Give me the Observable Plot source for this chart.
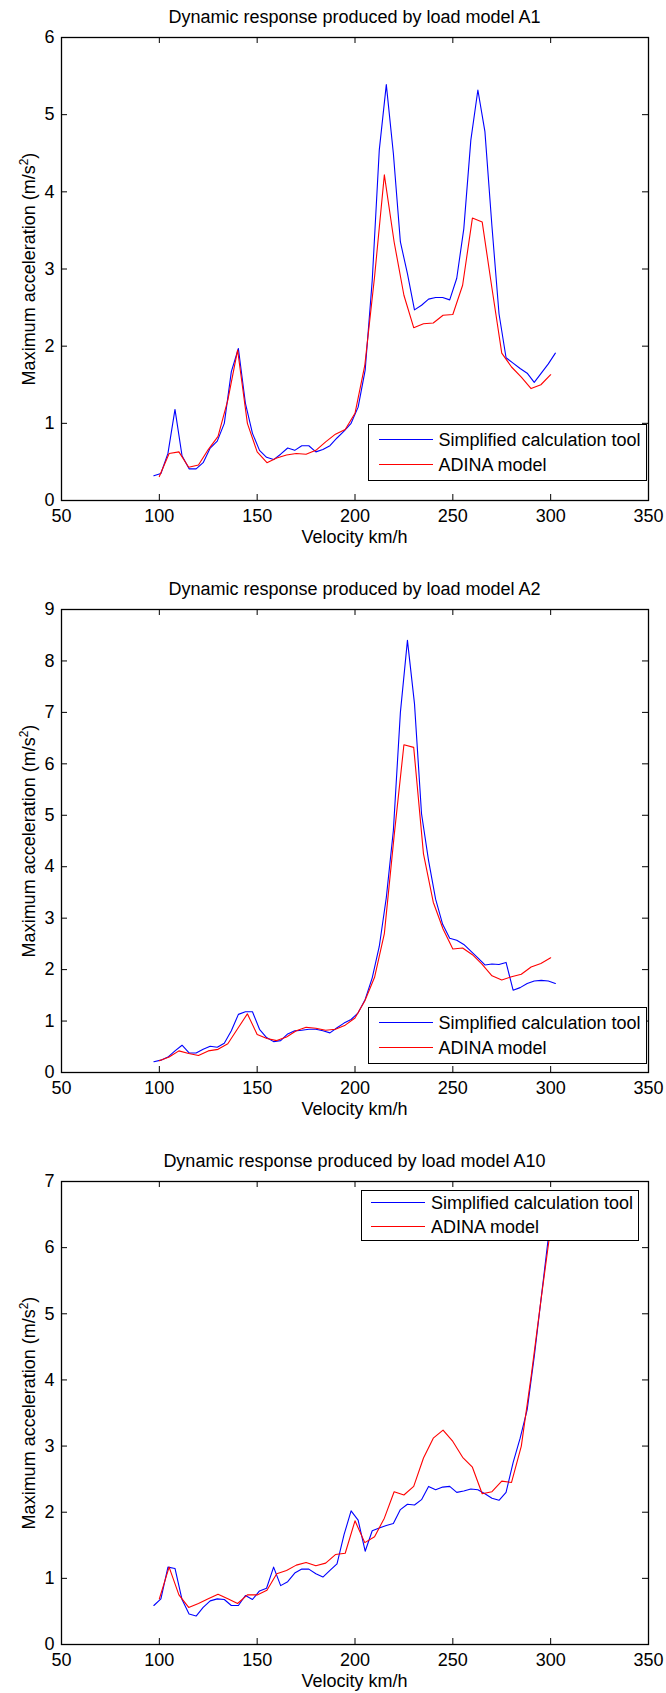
<!DOCTYPE html>
<html>
<head>
<meta charset="utf-8">
<script src="https://cdn.jsdelivr.net/npm/d3@7"></script>
<script src="https://cdn.jsdelivr.net/npm/@observablehq/plot@0.6"></script>
<style>
  html, body { margin: 0; padding: 0; background: #fff; }
  body { width: 666px; height: 1693px; position: relative; overflow: hidden;
         font-family: "Liberation Sans", Arial, Helvetica, sans-serif; color: #000; }
  .panel { position: absolute; left: 0; width: 666px; height: 572px; }
  .panel svg { position: absolute; left: 0; top: 0; }
  .title { position: absolute; left: 61px; width: 587px; text-align: center; font-size: 18px; line-height: 22px; white-space: nowrap; }
  .xlabel { position: absolute; left: 61px; width: 587px; text-align: center; font-size: 18px; line-height: 22px; }
  .ylabel { position: absolute; font-size: 18px; line-height: 22px; white-space: nowrap; transform: translate(-50%, -50%) rotate(-90deg); }
  .ylabel sup { font-size: 12px; vertical-align: 7px; line-height: 0; }
  .legend { position: absolute; background: #fff; border: 1.5px solid #000; box-sizing: border-box; }
  .legend .ln { position: absolute; height: 0; border-top: 1.2px solid; }
  .legend .tx { position: absolute; font-size: 18px; line-height: 22px; white-space: nowrap; transform: translateY(-50%); }
</style>
</head>
<body>
<script>
// ---------- data ----------
const titles = [
  "Dynamic response produced by load model A1",
  "Dynamic response produced by load model A2",
  "Dynamic response produced by load model A10"
];
const seriesNames = ["Simplified calculation tool", "ADINA model"];
const xLabel = "Velocity km/h";
const yLabelMain = "Maximum acceleration (m/s";
const yLabelSup = "2";

const xTicks = [50, 100, 150, 200, 250, 300, 350];
const yTicksA1 = [0, 1, 2, 3, 4, 5, 6];
const yTicksA2 = [0, 1, 2, 3, 4, 5, 6, 7, 8, 9];
const yTicksA10 = [0, 1, 2, 3, 4, 5, 6, 7];

// velocities of the simplified tool (km/h)
const velocitySim = [97.2, 100.8, 104.4, 108.0, 111.6, 115.2, 118.8, 122.4, 126.0, 129.6,
  133.2, 136.8, 140.4, 144.0, 147.6, 151.2, 154.8, 158.4, 162.0, 165.6,
  169.2, 172.8, 176.4, 180.0, 183.6, 187.2, 190.8, 194.4, 198.0, 201.6,
  205.2, 208.8, 212.4, 216.0, 219.6, 223.2, 226.8, 230.4, 234.0, 237.6,
  241.2, 244.8, 248.4, 252.0, 255.6, 259.2, 262.8, 266.4, 270.0, 273.6,
  277.2, 280.8, 284.4, 288.0, 291.6, 295.2, 298.8, 302.4];
// velocities of the ADINA model (km/h)
const velocityAdina = [100, 105, 110, 115, 120, 125, 130, 135, 140, 145,
  150, 155, 160, 165, 170, 175, 180, 185, 190, 195,
  200, 205, 210, 215, 220, 225, 230, 235, 240, 245,
  250, 255, 260, 265, 270, 275, 280, 285, 290, 295, 300];

const simA1 = [0.32, 0.35, 0.61, 1.18, 0.58, 0.41, 0.41, 0.49, 0.68, 0.77,
  1.00, 1.67, 1.97, 1.26, 0.87, 0.65, 0.56, 0.53, 0.60, 0.68,
  0.65, 0.71, 0.71, 0.63, 0.66, 0.71, 0.81, 0.90, 1.00, 1.21,
  1.69, 2.85, 4.54, 5.39, 4.50, 3.35, 2.94, 2.47, 2.53, 2.61,
  2.63, 2.63, 2.60, 2.88, 3.52, 4.67, 5.32, 4.78, 3.55, 2.42,
  1.85, 1.78, 1.71, 1.65, 1.53, 1.65, 1.77, 1.91];
const adinaA1 = [0.31, 0.61, 0.63, 0.43, 0.46, 0.66, 0.83, 1.30, 1.95, 1.00,
  0.63, 0.49, 0.55, 0.59, 0.61, 0.60, 0.65, 0.76, 0.86, 0.92,
  1.13, 1.75, 2.90, 4.22, 3.35, 2.66, 2.24, 2.29, 2.30, 2.40,
  2.41, 2.79, 3.66, 3.61, 2.75, 1.91, 1.73, 1.60, 1.45, 1.50, 1.63];

const simA2 = [0.21, 0.24, 0.30, 0.42, 0.53, 0.38, 0.38, 0.45, 0.51, 0.49,
  0.57, 0.81, 1.13, 1.18, 1.18, 0.84, 0.68, 0.60, 0.62, 0.75,
  0.81, 0.82, 0.84, 0.84, 0.81, 0.77, 0.87, 0.96, 1.03, 1.16,
  1.42, 1.84, 2.45, 3.40, 4.70, 7.00, 8.40, 7.17, 5.03, 4.12,
  3.37, 2.88, 2.61, 2.57, 2.49, 2.36, 2.23, 2.09, 2.11, 2.10,
  2.14, 1.60, 1.65, 1.73, 1.78, 1.79, 1.78, 1.73];
const adinaA2 = [0.23, 0.30, 0.42, 0.37, 0.33, 0.42, 0.45, 0.56, 0.85, 1.14,
  0.74, 0.66, 0.62, 0.69, 0.81, 0.88, 0.86, 0.82, 0.84, 0.92,
  1.06, 1.39, 1.85, 2.70, 4.60, 6.37, 6.32, 4.25, 3.31, 2.79,
  2.40, 2.42, 2.29, 2.10, 1.88, 1.80, 1.86, 1.91, 2.05, 2.12, 2.23];

const simA10 = [0.59, 0.69, 1.17, 1.15, 0.68, 0.46, 0.43, 0.56, 0.66, 0.69,
  0.68, 0.59, 0.59, 0.74, 0.68, 0.81, 0.85, 1.17, 0.89, 0.95,
  1.08, 1.14, 1.14, 1.07, 1.02, 1.12, 1.22, 1.66, 2.02, 1.88,
  1.41, 1.72, 1.76, 1.80, 1.83, 2.04, 2.12, 2.11, 2.19, 2.39,
  2.34, 2.38, 2.39, 2.30, 2.32, 2.35, 2.34, 2.28, 2.21, 2.18,
  2.30, 2.75, 3.12, 3.55, 4.35, 5.25, 6.15, 6.80];
const adinaA10 = [0.69, 1.17, 0.75, 0.56, 0.62, 0.69, 0.76, 0.69, 0.62, 0.75,
  0.75, 0.82, 1.07, 1.12, 1.20, 1.24, 1.19, 1.23, 1.36, 1.38,
  1.87, 1.54, 1.63, 1.91, 2.31, 2.26, 2.39, 2.82, 3.12, 3.24,
  3.07, 2.83, 2.68, 2.28, 2.31, 2.47, 2.45, 3.00, 4.05, 5.20, 6.30];

// ---------- layout ----------
const W = 666;
const M = {top: 37, bottom: 60, left: 61, right: 18};
const FRAME_H = 463;
const FRAME_W = W - M.left - M.right;
const TICK = 6;
const colors = ["#0000ff", "#ff0000"];

const panels = [
  {top: 0, title: titles[0], sim: simA1, adina: adinaA1, yTicks: yTicksA1,
   legend: {left: 368, top: 424, width: 279, height: 57, rows: [16, 41.5], lineX: 11.5, lineW: 53.5, textX: 71}},
  {top: 572, title: titles[1], sim: simA2, adina: adinaA2, yTicks: yTicksA2,
   legend: {left: 368, top: 435, width: 279, height: 57, rows: [16.3, 41.3], lineX: 11.7, lineW: 53.5, textX: 71}},
  {top: 1144, title: titles[2], sim: simA10, adina: adinaA10, yTicks: yTicksA10,
   legend: {left: 360.5, top: 46, width: 278.5, height: 50.5, rows: [13.5, 37], lineX: 11, lineW: 54, textX: 71}}
];

const font = '"Liberation Sans", Arial, Helvetica, sans-serif';

panels.forEach(p => {
  const div = document.createElement("div");
  div.className = "panel";
  div.style.top = p.top + "px";
  document.body.appendChild(div);

  const simRows = velocitySim.map((v, i) => ({v, a: p.sim[i]}));
  const adinaRows = velocityAdina.map((v, i) => ({v, a: p.adina[i]}));
  const yMax = p.yTicks[p.yTicks.length - 1];

  const chart = Plot.plot({
    width: W,
    height: M.top + FRAME_H + M.bottom,
    marginTop: M.top, marginBottom: M.bottom, marginLeft: M.left, marginRight: M.right,
    style: {fontFamily: font, fontSize: "18px", color: "#000", background: "transparent", overflow: "visible"},
    x: {domain: [50, 350], ticks: xTicks, tickSize: 0, tickPadding: 9, label: null, tickFormat: d => String(d)},
    y: {domain: [0, yMax], ticks: p.yTicks, tickSize: 0, tickPadding: 7, label: null, tickFormat: d => String(d)},
    marks: [
      Plot.line(simRows, {x: "v", y: "a", stroke: colors[0], strokeWidth: 1.1}),
      Plot.line(adinaRows, {x: "v", y: "a", stroke: colors[1], strokeWidth: 1.1}),
      Plot.tickX(xTicks, {x: d => d, insetTop: FRAME_H - TICK, stroke: "#000", strokeWidth: 1}),
      Plot.tickX(xTicks, {x: d => d, insetBottom: FRAME_H - TICK, stroke: "#000", strokeWidth: 1}),
      Plot.tickY(p.yTicks, {y: d => d, insetRight: FRAME_W - TICK, stroke: "#000", strokeWidth: 1}),
      Plot.tickY(p.yTicks, {y: d => d, insetLeft: FRAME_W - TICK, stroke: "#000", strokeWidth: 1}),
      Plot.frame({stroke: "#000", strokeWidth: 1.3})
    ]
  });
  div.appendChild(chart);

  const t = document.createElement("div");
  t.className = "title";
  t.style.top = (17 - 11) + "px";
  t.textContent = p.title;
  div.appendChild(t);

  const xl = document.createElement("div");
  xl.className = "xlabel";
  xl.style.top = (M.top + FRAME_H + 37 - 11) + "px";
  xl.textContent = xLabel;
  div.appendChild(xl);

  const yl = document.createElement("div");
  yl.className = "ylabel";
  yl.style.left = "28.5px";
  yl.style.top = (M.top + FRAME_H / 2) + "px";
  yl.append(yLabelMain);
  const sup = document.createElement("sup");
  sup.textContent = yLabelSup;
  yl.appendChild(sup);
  yl.append(")");
  div.appendChild(yl);

  const L = p.legend;
  const lg = document.createElement("div");
  lg.className = "legend";
  Object.assign(lg.style, {left: L.left + "px", top: L.top + "px", width: L.width + "px", height: L.height + "px"});
  seriesNames.forEach((name, i) => {
    const ln = document.createElement("div");
    ln.className = "ln";
    Object.assign(ln.style, {left: (L.lineX - 1.5) + "px", top: (L.rows[i] - 1.5 - 0.6) + "px", width: L.lineW + "px", borderTopColor: colors[i]});
    lg.appendChild(ln);
    const tx = document.createElement("div");
    tx.className = "tx";
    Object.assign(tx.style, {left: (L.textX - 1.5) + "px", top: (L.rows[i] - 1.5) + "px"});
    tx.textContent = name;
    lg.appendChild(tx);
  });
  div.appendChild(lg);
});
</script>
</body>
</html>
